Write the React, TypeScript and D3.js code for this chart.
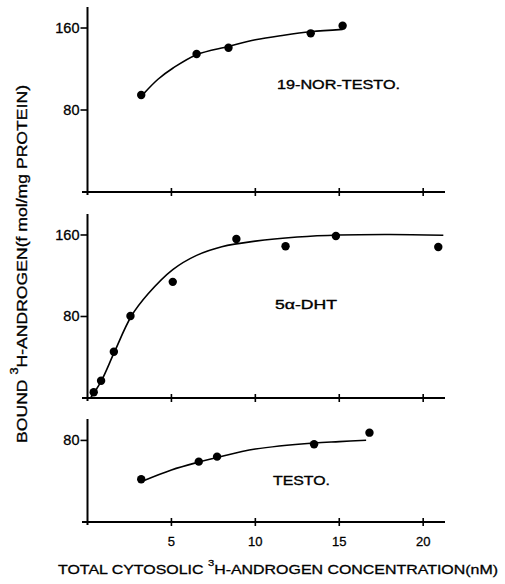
import * as d3 from "d3";
import React from "react";

// values (x = total cytosolic conc. nM, y = bound fmol/mg protein)
const xTicks = [5, 10, 15, 20];

const norPoints = [[3.2, 94.6], [6.5, 134.6], [8.4, 140.8], [13.3, 154.8], [15.2, 162.2]];
const norCurve = [[3.35, 96], [4.2, 110], [5.1, 121], [6.5, 134], [8.4, 142], [10, 148.5], [11.7, 153], [13.3, 156.4], [15.2, 158.7]];
const norTicks = [80, 160];

const dhtPoints = [[0.37, 5.6], [0.81, 17], [1.57, 45.4], [2.56, 80.5], [5.08, 114], [8.87, 156], [11.8, 148.9], [14.8, 159], [20.9, 148.2]];
const dhtCurve = [[0.2, 0.5], [0.8, 16], [1.6, 45], [2.6, 80], [3.6, 102], [5.08, 126], [6.5, 140], [8, 148.5], [10, 154], [12.5, 158], [15, 160], [18, 160.5], [21.2, 159.8]];
const dhtTicks = [80, 160];

const testoPoints = [[3.2, 41.9], [6.63, 59.2], [7.72, 64.1], [13.5, 76.3], [16.8, 87.6]];
const testoCurve = [[3.3, 40.2], [5, 51], [6.63, 58.8], [7.72, 63.3], [10, 71.5], [13.5, 77.5], [15, 78.8], [16.6, 80.2]];
const testoTicks = [80];

const FONT = "'Liberation Sans', Arial, sans-serif";

const x = d3.scaleLinear().domain([0, 21.3]).range([87.5, 445]);

function Panel({top, bottom, max, points, curve, ticks, label, labelX, labelY, labelLen}) {
    const y = d3.scaleLinear().domain([0, max]).range([bottom, top]);
    const line = d3.line().x(d => x(d[0])).y(d => y(d[1])).curve(d3.curveCatmullRom.alpha(0.5));
    const x0 = x(0);
    return (
        <g>
            {/* x axis with cross ticks */}
            <line x1={82} x2={445} y1={bottom} y2={bottom} stroke="#000" strokeWidth={2} />
            {xTicks.map(t => (
                <line key={t} x1={x(t)} x2={x(t)} y1={bottom - 4} y2={bottom + 4} stroke="#000" strokeWidth={1.6} />
            ))}
            {/* y axis */}
            <line x1={x0} x2={x0} y1={top} y2={bottom + 3} stroke="#000" strokeWidth={2} />
            {ticks.map(t => (
                <g key={t}>
                    <line x1={x0 - 7} x2={x0} y1={y(t)} y2={y(t)} stroke="#000" strokeWidth={1.6} />
                    <text x={x0 - 8} y={y(t) + 5} textAnchor="end" fontSize={14.5} fontFamily={FONT}
                          stroke="#000" strokeWidth={0.3}>{t}</text>
                </g>
            ))}
            <path d={line(curve)} fill="none" stroke="#000" strokeWidth={1.6} />
            {points.map((d, i) => (
                <circle key={i} cx={x(d[0])} cy={y(d[1])} r={4.2} fill="#000" />
            ))}
            <text x={labelX} y={labelY} fontSize={12.5} fontFamily={FONT} stroke="#000" strokeWidth={0.35}
                  textLength={labelLen} lengthAdjust="spacingAndGlyphs">{label}</text>
        </g>
    );
}

export default function App() {
    return (
        <svg width={505} height={584} style={{position: "absolute", left: 0, top: 0, background: "#fff"}}>
            <Panel top={7} bottom={192} max={180.5} points={norPoints} curve={norCurve} ticks={norTicks}
                   label="19-NOR-TESTO." labelX={277} labelY={88.5} labelLen={123} />
            <Panel top={214} bottom={398} max={180.6} points={dhtPoints} curve={dhtCurve} ticks={dhtTicks}
                   label="5α-DHT" labelX={275} labelY={308.5} labelLen={62} />
            <Panel top={419} bottom={522} max={101} points={testoPoints} curve={testoCurve} ticks={testoTicks}
                   label="TESTO." labelX={273} labelY={485} labelLen={57} />

            {/* x tick labels under bottom panel */}
            {xTicks.map(t => (
                <text key={t} x={x(t)} y={545.5} textAnchor="middle" fontSize={13} fontFamily={FONT}
                      stroke="#000" strokeWidth={0.3}>{t}</text>
            ))}

            <text x={58} y={574} fontSize={13.5} fontFamily={FONT} stroke="#000" strokeWidth={0.3}
                  textLength={440} lengthAdjust="spacingAndGlyphs">
                TOTAL CYTOSOLIC <tspan fontSize={9.5} dy={-8}>3</tspan><tspan dy={8}>H-ANDROGEN CONCENTRATION(nM)</tspan>
            </text>

            <text transform="translate(27,443) rotate(-90)" x={0} y={0} fontSize={14} fontFamily={FONT}
                  stroke="#000" strokeWidth={0.3} textLength={358} lengthAdjust="spacingAndGlyphs">
                BOUND <tspan fontSize={10} dy={-9}>3</tspan><tspan dy={9}>H-ANDROGEN(f mol/mg PROTEIN)</tspan>
            </text>
        </svg>
    );
}
